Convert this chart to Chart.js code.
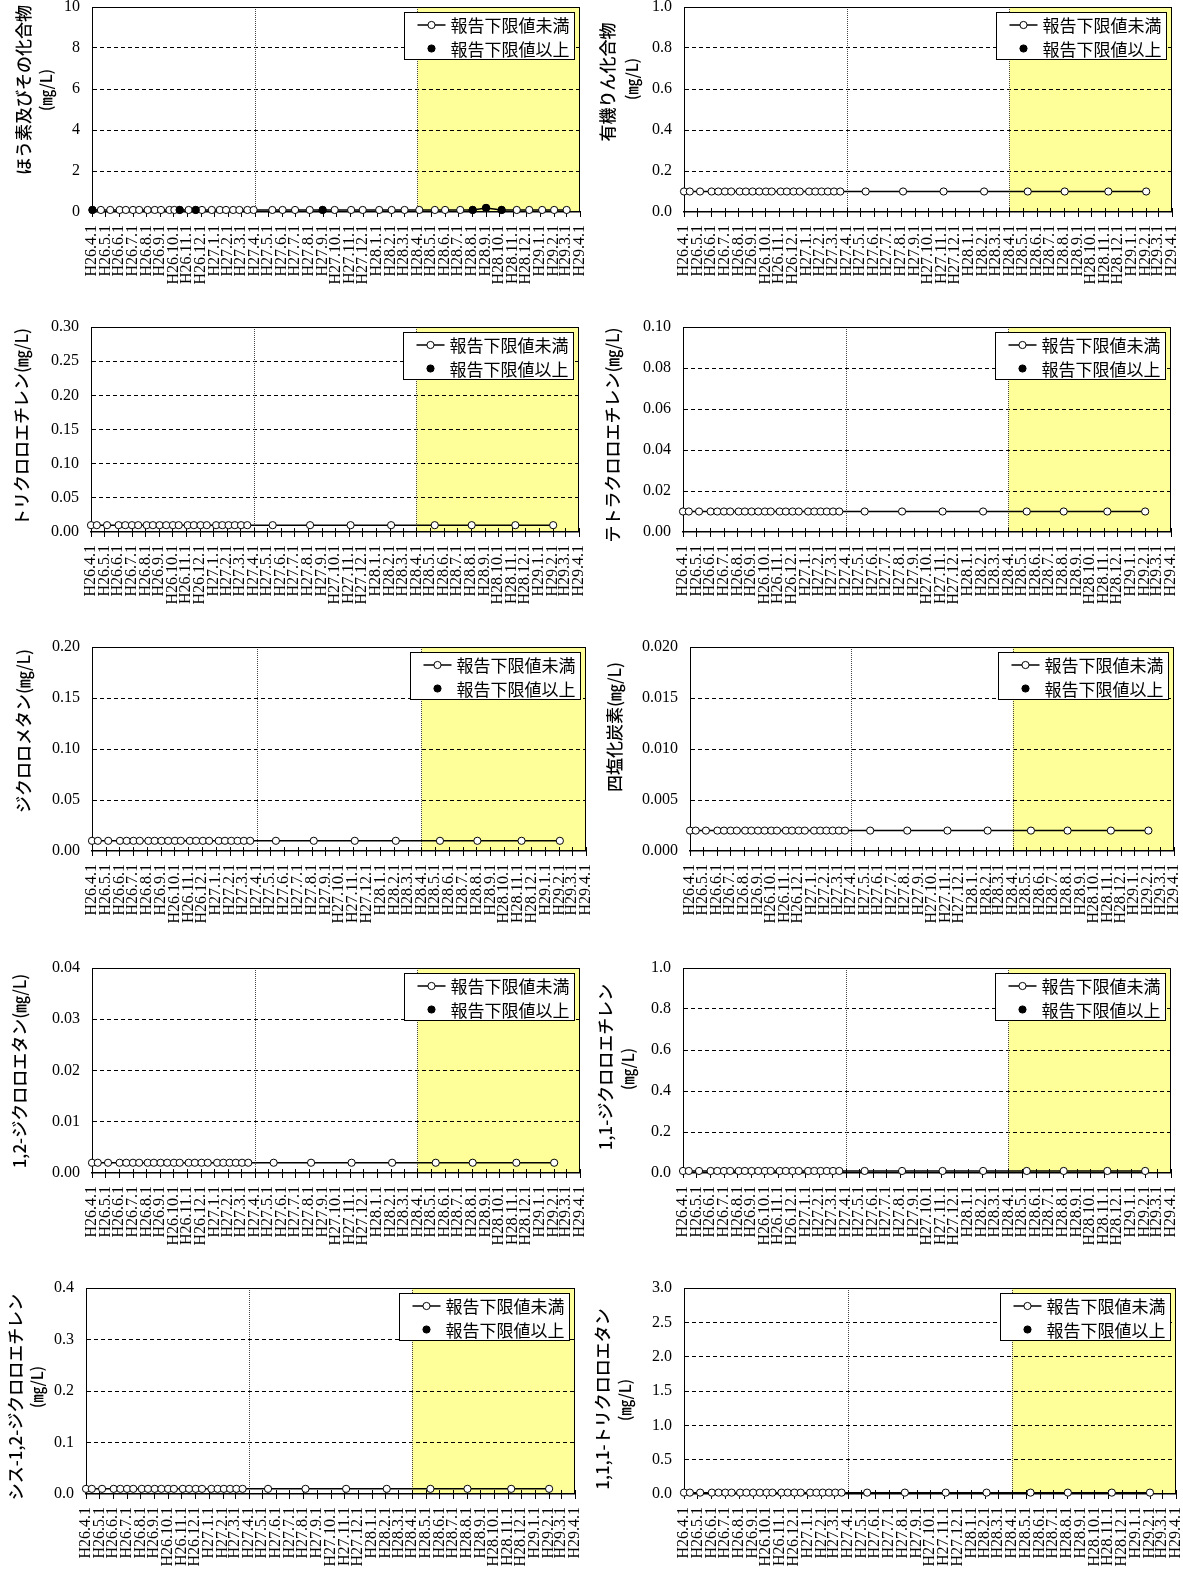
<!DOCTYPE html>
<html><head><meta charset="utf-8">
<script src="https://cdn.jsdelivr.net/npm/chart.js@4/dist/chart.umd.min.js"></script>
<style>
html,body{margin:0;padding:0;background:#fff;overflow:hidden;width:1183px;height:1573px;position:relative;}
canvas{position:absolute;}
</style></head><body>
<script>
// ---------- data ----------
const xTickLabels = ['H26.4.1','H26.5.1','H26.6.1','H26.7.1','H26.8.1','H26.9.1','H26.10.1','H26.11.1','H26.12.1','H27.1.1','H27.2.1','H27.3.1',
  'H27.4.1','H27.5.1','H27.6.1','H27.7.1','H27.8.1','H27.9.1','H27.10.1','H27.11.1','H27.12.1','H28.1.1','H28.2.1','H28.3.1',
  'H28.4.1','H28.5.1','H28.6.1','H28.7.1','H28.8.1','H28.9.1','H28.10.1','H28.11.1','H28.12.1','H29.1.1','H29.2.1','H29.3.1','H29.4.1'];
const yearLines = ['H27.4.1','H28.4.1'];
const shadeRange = ['H28.4.1','H29.4.1'];
const seriesNames = ['報告下限値未満','報告下限値以上'];

const boronDates = ['H26.4.2','H26.4.21','H26.5.12','H26.6.2','H26.6.16','H26.7.2','H26.7.16','H26.8.4','H26.8.20','H26.9.3','H26.9.22','H26.10.3',
  'H26.10.15','H26.11.4','H26.11.20','H26.12.4','H26.12.26','H27.1.13','H27.1.27','H27.2.12','H27.2.26','H27.3.16','H27.3.30',
  'H27.5.11','H27.6.3','H27.7.1','H27.8.3','H27.9.1','H27.9.28','H27.11.4','H27.11.30','H28.1.6','H28.2.3','H28.3.3','H28.4.5',
  'H28.5.10','H28.6.2','H28.7.6','H28.8.3','H28.9.2','H28.10.7','H28.11.10','H28.12.8','H29.1.6','H29.2.2','H29.3.2'];
const boronValues = [0.1,0.1,0.1,0.1,0.1,0.1,0.1,0.1,0.1,0.1,0.1,0.1,0.1,0.1,0.1,0.1,0.1,0.1,0.1,0.1,0.1,0.1,0.1,
  0.1,0.1,0.1,0.1,0.1,0.1,0.1,0.1,0.1,0.1,0.1,0.1,
  0.1,0.1,0.1,0.1,0.2,0.1,0.1,0.1,0.1,0.1,0.1];
const boronAbove = [1,0,0,0,0,0,0,0,0,0,0,0,1,0,1,0,0,0,0,0,0,0,0,
  0,0,0,0,1,0,0,0,0,0,0,0,
  0,0,0,1,1,1,0,0,0,0,0];

const commonDates = ['H26.4.1','H26.4.14','H26.5.7','H26.6.2','H26.6.17','H26.7.2','H26.7.16','H26.8.4','H26.8.18','H26.9.2','H26.9.17','H26.10.2',
  'H26.10.15','H26.11.4','H26.11.18','H26.12.3','H26.12.17','H27.1.7','H27.1.21','H27.2.4','H27.2.18','H27.3.4','H27.3.18',
  'H27.5.14','H27.8.6','H27.11.5','H28.2.4','H28.5.12','H28.8.3','H28.11.9','H29.2.2'];
const organoPValues = [0.1,0.1,0.1,0.1,0.1,0.1,0.1,0.1,0.1,0.1,0.1,0.1,0.1,0.1,0.1,0.1,0.1,0.1,0.1,0.1,0.1,0.1,0.1,0.1,0.1,0.1,0.1,0.1,0.1,0.1,0.1];
const tceValues = [0.01,0.01,0.01,0.01,0.01,0.01,0.01,0.01,0.01,0.01,0.01,0.01,0.01,0.01,0.01,0.01,0.01,0.01,0.01,0.01,0.01,0.01,0.01,0.01,0.01,0.01,0.01,0.01,0.01,0.01,0.01];
const pceValues = [0.01,0.01,0.01,0.01,0.01,0.01,0.01,0.01,0.01,0.01,0.01,0.01,0.01,0.01,0.01,0.01,0.01,0.01,0.01,0.01,0.01,0.01,0.01,0.01,0.01,0.01,0.01,0.01,0.01,0.01,0.01];
const dcmValues = [0.01,0.01,0.01,0.01,0.01,0.01,0.01,0.01,0.01,0.01,0.01,0.01,0.01,0.01,0.01,0.01,0.01,0.01,0.01,0.01,0.01,0.01,0.01,0.01,0.01,0.01,0.01,0.01,0.01,0.01,0.01];
const ccl4Values = [0.002,0.002,0.002,0.002,0.002,0.002,0.002,0.002,0.002,0.002,0.002,0.002,0.002,0.002,0.002,0.002,0.002,0.002,0.002,0.002,0.002,0.002,0.002,0.002,0.002,0.002,0.002,0.002,0.002,0.002,0.002];
const dca12Values = [0.002,0.002,0.002,0.002,0.002,0.002,0.002,0.002,0.002,0.002,0.002,0.002,0.002,0.002,0.002,0.002,0.002,0.002,0.002,0.002,0.002,0.002,0.002,0.002,0.002,0.002,0.002,0.002,0.002,0.002,0.002];
const dce11Values = [0.01,0.01,0.01,0.01,0.01,0.01,0.01,0.01,0.01,0.01,0.01,0.01,0.01,0.01,0.01,0.01,0.01,0.01,0.01,0.01,0.01,0.01,0.01,0.01,0.01,0.01,0.01,0.01,0.01,0.01,0.01];
const cisDceValues = [0.01,0.01,0.01,0.01,0.01,0.01,0.01,0.01,0.01,0.01,0.01,0.01,0.01,0.01,0.01,0.01,0.01,0.01,0.01,0.01,0.01,0.01,0.01,0.01,0.01,0.01,0.01,0.01,0.01,0.01,0.01];
const tca111Values = [0.02,0.02,0.02,0.02,0.02,0.02,0.02,0.02,0.02,0.02,0.02,0.02,0.02,0.02,0.02,0.02,0.02,0.02,0.02,0.02,0.02,0.02,0.02,0.02,0.02,0.02,0.02,0.02,0.02,0.02,0.02];
const commonAbove = [];

const yTicks1 = [0,2,4,6,8,10];            const yLabels1 = ['0','2','4','6','8','10'];
const yTicks2 = [0,0.2,0.4,0.6,0.8,1.0];   const yLabels2 = ['0.0','0.2','0.4','0.6','0.8','1.0'];
const yTicks3 = [0,0.05,0.10,0.15,0.20,0.25,0.30]; const yLabels3 = ['0.00','0.05','0.10','0.15','0.20','0.25','0.30'];
const yTicks4 = [0,0.02,0.04,0.06,0.08,0.10];  const yLabels4 = ['0.00','0.02','0.04','0.06','0.08','0.10'];
const yTicks5 = [0,0.05,0.10,0.15,0.20];   const yLabels5 = ['0.00','0.05','0.10','0.15','0.20'];
const yTicks6 = [0,0.005,0.010,0.015,0.020]; const yLabels6 = ['0.000','0.005','0.010','0.015','0.020'];
const yTicks7 = [0,0.01,0.02,0.03,0.04];   const yLabels7 = ['0.00','0.01','0.02','0.03','0.04'];
const yTicks8 = [0,0.2,0.4,0.6,0.8,1.0];   const yLabels8 = ['0.0','0.2','0.4','0.6','0.8','1.0'];
const yTicks9 = [0,0.1,0.2,0.3,0.4];       const yLabels9 = ['0.0','0.1','0.2','0.3','0.4'];
const yTicks10 = [0,0.5,1.0,1.5,2.0,2.5,3.0]; const yLabels10 = ['0.0','0.5','1.0','1.5','2.0','2.5','3.0'];

const titles1 = ['ほう素及びその化合物','(㎎/L)'];
const titles2 = ['有機りん化合物','(㎎/L)'];
const titles3 = ['トリクロロエチレン(㎎/L)'];
const titles4 = ['テトラクロロエチレン(㎎/L)'];
const titles5 = ['ジクロロメタン(㎎/L)'];
const titles6 = ['四塩化炭素(㎎/L)'];
const titles7 = ['1,2-ジクロロエタン(㎎/L)'];
const titles8 = ['1,1-ジクロロエチレン','(㎎/L)'];
const titles9 = ['シス-1,2-ジクロロエチレン','(㎎/L)'];
const titles10 = ['1,1,1-トリクロロエタン','(㎎/L)'];

// ---------- helpers ----------
function parseH(s){const m=s.match(/H(\d+)\.(\d+)\.(\d+)/);return Date.UTC(1988+ +m[1],+m[2]-1,+m[3]);}
const T0 = parseH(xTickLabels[0]);
function dayOf(s){return (parseH(s)-T0)/864e5;}

const SERIF = '"Liberation Serif","DejaVu Serif",serif';
const GOTHIC = '"Noto Sans CJK JP","Noto Sans",sans-serif';

const deco = {
  id:'deco',
  beforeDraw(chart, args, o){
    const {ctx, chartArea:a, scales:{x}} = chart;
    const x0 = x.getPixelForValue(dayOf(shadeRange[0])), x1 = x.getPixelForValue(dayOf(shadeRange[1]));
    ctx.save(); ctx.fillStyle='#FFFF99'; ctx.fillRect(x0, a.top, x1-x0, a.bottom-a.top); ctx.restore();
  },
  beforeDatasetsDraw(chart, args, o){
    const {ctx, chartArea:a, scales:{x}} = chart;
    ctx.save();
    ctx.strokeStyle='#444'; ctx.lineWidth=1; ctx.setLineDash([1,1]);
    yearLines.forEach(s=>{const px=Math.round(x.getPixelForValue(dayOf(s)))+0.5; ctx.beginPath(); ctx.moveTo(px,a.top); ctx.lineTo(px,a.bottom); ctx.stroke();});
    ctx.setLineDash([]); ctx.strokeStyle='#000'; ctx.lineWidth=1;
    ctx.beginPath();
    ctx.moveTo(a.left, a.top+0.5); ctx.lineTo(a.right, a.top+0.5);
    ctx.moveTo(a.right-0.5, a.top); ctx.lineTo(a.right-0.5, a.bottom);
    ctx.stroke();
    ctx.lineWidth=1; ctx.beginPath();
    x.ticks.forEach(t=>{const px=Math.round(x.getPixelForValue(t.value))+0.5; ctx.moveTo(px, a.bottom-(o.cross?4:0)); ctx.lineTo(px, a.bottom+5);});
    ctx.stroke();
    ctx.restore();
  },
  afterDraw(chart, args, o){
    const {ctx, chartArea:a} = chart;
    const ds = chart.data.datasets;
    ctx.save();
    // legend
    const bw=170, bh=47;
    const bx=Math.round(a.right-6-bw)+0.5, by=Math.round(a.top+5)+0.5;
    ctx.fillStyle='#fff'; ctx.fillRect(bx,by,bw,bh);
    ctx.strokeStyle='#000'; ctx.lineWidth=1; ctx.strokeRect(bx,by,bw,bh);
    const r1=by+12.5, r2=by+36;
    ctx.lineWidth=1.5; ctx.beginPath(); ctx.moveTo(bx+13,r1); ctx.lineTo(bx+41,r1); ctx.stroke();
    ctx.lineWidth=1;
    ctx.beginPath(); ctx.arc(bx+27,r1,3.6,0,Math.PI*2); ctx.fillStyle='#fff'; ctx.fill(); ctx.stroke();
    ctx.beginPath(); ctx.arc(bx+27,r2,3.6,0,Math.PI*2); ctx.fillStyle='#000'; ctx.fill(); ctx.stroke();
    ctx.fillStyle='#000'; ctx.font='17px '+GOTHIC; ctx.textBaseline='middle'; ctx.textAlign='left';
    ctx.fillText(ds[0].label, bx+46, r1+1);
    ctx.fillText(ds[1].label, bx+46, r2+1);
    // y title
    o.titles.forEach(t=>{
      ctx.save(); ctx.translate(t.x, t.y); ctx.rotate(-Math.PI/2);
      ctx.font='500 '+t.size+'px '+GOTHIC; ctx.textAlign='center'; ctx.textBaseline='middle'; ctx.fillStyle='#000';
      ctx.fillText(t.text,0,0); ctx.restore();
    });
    ctx.restore();
  }
};

function makeChart(cfg){
  const colX = cfg.plot.l > 590 ? 590 : 0;
  const padTop = Math.min(12, cfg.plot.t);
  const padRight = Math.min(10, 1183 - cfg.plot.r);
  const xAxisH = 88;
  const yAxisW = cfg.plot.l - colX;
  const W = yAxisW + (cfg.plot.r - cfg.plot.l) + padRight;
  const H = padTop + (cfg.plot.b - cfg.plot.t) + xAxisH;
  const cv = document.createElement('canvas');
  cv.width=W; cv.height=H; cv.style.left=colX+'px'; cv.style.top=(cfg.plot.t-padTop)+'px';
  cv.style.width=W+'px'; cv.style.height=H+'px';
  document.body.appendChild(cv);
  const all = cfg.dates.map((d,i)=>({x:dayOf(d), y:cfg.values[i]}));
  const above = cfg.dates.map((d,i)=>({x:dayOf(d), y:cfg.values[i], f:cfg.above[i]})).filter(p=>p.f===1).map(p=>({x:p.x,y:p.y}));
  const nY = cfg.yTicks.length;
  const titles = cfg.titles.map((t,i)=>({text:t, size: i===0?17:16, x: cfg.tpos[i][0]-colX, y: cfg.tpos[i][1]-(cfg.plot.t-padTop)}));
  new Chart(cv, {
    type:'line',
    data:{datasets:[
      {label:seriesNames[0], data:all, borderColor:'#000', borderWidth:1.5, pointRadius:3.6, pointBackgroundColor:'#fff', pointBorderColor:'#000', pointBorderWidth:1, order:1, clip:false, tension:0},
      {label:seriesNames[1], data:above, showLine:false, pointRadius:3.6, pointBackgroundColor:'#000', pointBorderColor:'#000', pointBorderWidth:1, order:0, clip:false}
    ]},
    options:{
      responsive:false, animation:false, devicePixelRatio:1, events:[],
      layout:{padding:{left:0, top:padTop, right:padRight, bottom:0}},
      plugins:{legend:{display:false}, tooltip:{enabled:false}, deco:{cross:cfg.cross, titles:titles}},
      scales:{
        x:{type:'linear', min:dayOf(xTickLabels[0]), max:dayOf(xTickLabels[xTickLabels.length-1]),
          afterBuildTicks:s=>{s.ticks = xTickLabels.map(l=>({value:dayOf(l)}));},
          afterFit:s=>{s.height=xAxisH; s.paddingLeft=0; s.paddingRight=0;},
          ticks:{autoSkip:false, maxRotation:90, minRotation:90, padding:13, color:'#000', font:{family:SERIF, size:16}, callback:(v,i)=>xTickLabels[i]},
          grid:{display:false, drawTicks:false},
          border:{display:true, color:'#000', width:1.5}
        },
        y:{min:0, max:cfg.yTicks[nY-1],
          afterBuildTicks:s=>{s.ticks = cfg.yTicks.map(v=>({value:v}));},
          afterFit:s=>{s.width=yAxisW; s.paddingTop=0; s.paddingBottom=0;},
          ticks:{padding:12, color:'#000', font:{family:SERIF, size:16}, callback:(v,i)=>cfg.yLabels[i]},
          grid:{drawTicks:false, lineWidth:1, color:c=>(c.index===0||c.index===nY-1)?'rgba(0,0,0,0)':'#000', borderDash:[4,3]},
          border:{display:true, color:'#000', width:1, dash:[4,3]}
        }
      }
    },
    plugins:[deco]
  });
}

const charts = [
  {plot:{l:92,t:7,r:580,b:212}, dates:boronDates, values:boronValues, above:boronAbove, yTicks:yTicks1, yLabels:yLabels1, titles:titles1, tpos:[[24,90],[46,90]], cross:false},
  {plot:{l:684,t:7,r:1172,b:212}, dates:commonDates, values:organoPValues, above:commonAbove, yTicks:yTicks2, yLabels:yLabels2, titles:titles2, tpos:[[608,82],[632,79]], cross:true},
  {plot:{l:91,t:327,r:579,b:532}, dates:commonDates, values:tceValues, above:commonAbove, yTicks:yTicks3, yLabels:yLabels3, titles:titles3, tpos:[[22,427]], cross:true},
  {plot:{l:683,t:327,r:1171,b:532}, dates:commonDates, values:pceValues, above:commonAbove, yTicks:yTicks4, yLabels:yLabels4, titles:titles4, tpos:[[613,435]], cross:true},
  {plot:{l:92,t:647,r:586,b:851}, dates:commonDates, values:dcmValues, above:commonAbove, yTicks:yTicks5, yLabels:yLabels5, titles:titles5, tpos:[[24,731]], cross:true},
  {plot:{l:690,t:647,r:1174,b:851}, dates:commonDates, values:ccl4Values, above:commonAbove, yTicks:yTicks6, yLabels:yLabels6, titles:titles6, tpos:[[615,727]], cross:true},
  {plot:{l:92,t:968,r:580,b:1173}, dates:commonDates, values:dca12Values, above:commonAbove, yTicks:yTicks7, yLabels:yLabels7, titles:titles7, tpos:[[20,1071]], cross:true},
  {plot:{l:683,t:968,r:1171,b:1173}, dates:commonDates, values:dce11Values, above:commonAbove, yTicks:yTicks8, yLabels:yLabels8, titles:titles8, tpos:[[606,1067],[628,1069]], cross:true},
  {plot:{l:86,t:1288,r:575,b:1494}, dates:commonDates, values:cisDceValues, above:commonAbove, yTicks:yTicks9, yLabels:yLabels9, titles:titles9, tpos:[[16,1397],[37,1387]], cross:true},
  {plot:{l:684,t:1288,r:1176,b:1494}, dates:commonDates, values:tca111Values, above:commonAbove, yTicks:yTicks10, yLabels:yLabels10, titles:titles10, tpos:[[603,1399],[625,1400]], cross:true}
];
charts.forEach(makeChart);
</script>
</body></html>
